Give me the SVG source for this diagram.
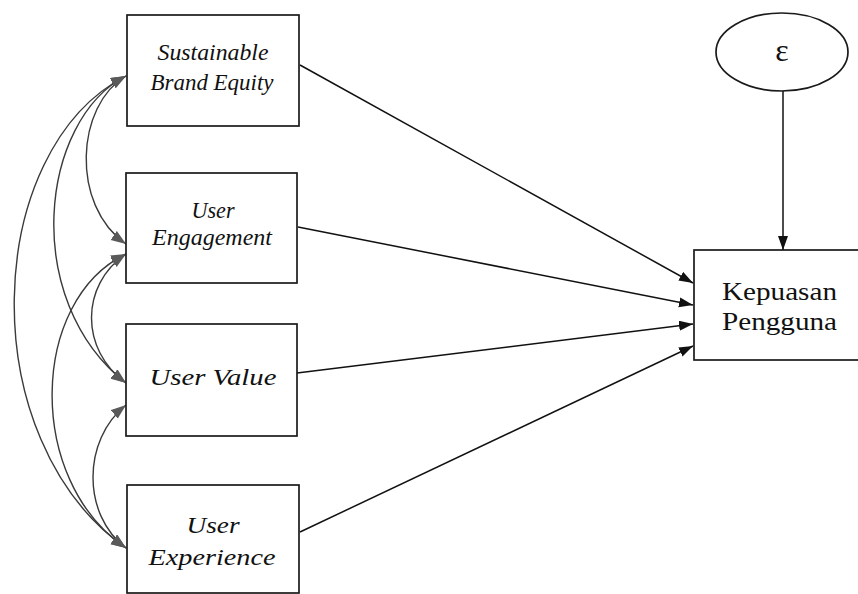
<svg xmlns="http://www.w3.org/2000/svg" width="858" height="594" viewBox="0 0 858 594">
<style>
  .box { fill: #fff; stroke: #1a1a1a; stroke-width: 1.7; }
  .lbl { font-family: "Liberation Serif", "Times New Roman", serif; font-style: italic; font-size: 24px; fill: #111; text-anchor: middle; }
  .dep { font-family: "Liberation Serif", "Times New Roman", serif; font-size: 26px; fill: #111; }
  .path { fill: none; stroke: #111; stroke-width: 1.5; }
  .cov { fill: none; stroke: #3a3a3a; stroke-width: 1.4; }
</style>
<defs>
  <marker id="ah" markerUnits="userSpaceOnUse" markerWidth="15" markerHeight="11" refX="14" refY="5" orient="auto">
    <path d="M0,0 L14,5 L0,10 z" fill="#111"/>
  </marker>
  <marker id="gh" markerUnits="userSpaceOnUse" markerWidth="16" markerHeight="12" refX="15" refY="5.5" orient="auto-start-reverse">
    <path d="M0,0 L15,5.5 L0,11 z" fill="#5a5a5a"/>
  </marker>
</defs>
<rect width="858" height="594" fill="#fff"/>

<g id="connectors">
  <path class="path" d="M300,65 L693,283" marker-end="url(#ah)"/>
  <path class="path" d="M298,227 L693,305" marker-end="url(#ah)"/>
  <path class="path" d="M297,373 L693,324" marker-end="url(#ah)"/>
  <path class="path" d="M300,532 L693,346" marker-end="url(#ah)"/>
  <path class="path" d="M783,91 L783,250" marker-end="url(#ah)"/>
  <path class="cov" d="M126,76 C76,105 70,205 126,244" marker-start="url(#gh)" marker-end="url(#gh)"/>
  <path class="cov" d="M126,76 C40,120 20,300 126,383" marker-start="url(#gh)" marker-end="url(#gh)"/>
  <path class="cov" d="M126,76 C-18,150 -28,440 126,548" marker-start="url(#gh)" marker-end="url(#gh)"/>
  <path class="cov" d="M126,254 C80,285 80,350 126,383" marker-start="url(#gh)" marker-end="url(#gh)"/>
  <path class="cov" d="M126,254 C30,300 25,480 126,548" marker-start="url(#gh)" marker-end="url(#gh)"/>
  <path class="cov" d="M126,405 C82,440 82,515 126,548" marker-start="url(#gh)" marker-end="url(#gh)"/>
</g>

<g id="sbe">
  <rect class="box" x="127" y="15" width="172" height="111"/>
  <text class="lbl" x="213" y="60" textLength="111" lengthAdjust="spacingAndGlyphs">Sustainable</text>
  <text class="lbl" x="212" y="90" textLength="123" lengthAdjust="spacingAndGlyphs">Brand Equity</text>
</g>
<g id="ue">
  <rect class="box" x="126" y="173" width="171" height="110"/>
  <text class="lbl" x="213" y="218" textLength="43" lengthAdjust="spacingAndGlyphs">User</text>
  <text class="lbl" x="212" y="245" textLength="120" lengthAdjust="spacingAndGlyphs">Engagement</text>
</g>
<g id="uv">
  <rect class="box" x="126" y="324" width="171" height="112"/>
  <text class="lbl" x="213" y="385" font-size="27" textLength="127" lengthAdjust="spacingAndGlyphs">User Value</text>
</g>
<g id="ux">
  <rect class="box" x="127" y="485" width="172" height="108"/>
  <text class="lbl" x="213" y="533" font-size="27" textLength="53" lengthAdjust="spacingAndGlyphs">User</text>
  <text class="lbl" x="212" y="565" font-size="27" textLength="127" lengthAdjust="spacingAndGlyphs">Experience</text>
</g>
<g id="kp">
  <rect class="box" x="694" y="250" width="170" height="110"/>
  <text class="dep" x="722" y="300" textLength="115" lengthAdjust="spacingAndGlyphs">Kepuasan</text>
  <text class="dep" x="722" y="330" textLength="115" lengthAdjust="spacingAndGlyphs">Pengguna</text>
</g>
<g id="eps">
  <ellipse cx="782" cy="52" rx="66" ry="39" fill="#fff" stroke="#1a1a1a" stroke-width="1.7"/>
  <text x="782" y="61" font-family="Liberation Serif, serif" font-size="32" fill="#111" text-anchor="middle">ε</text>
</g>
</svg>
